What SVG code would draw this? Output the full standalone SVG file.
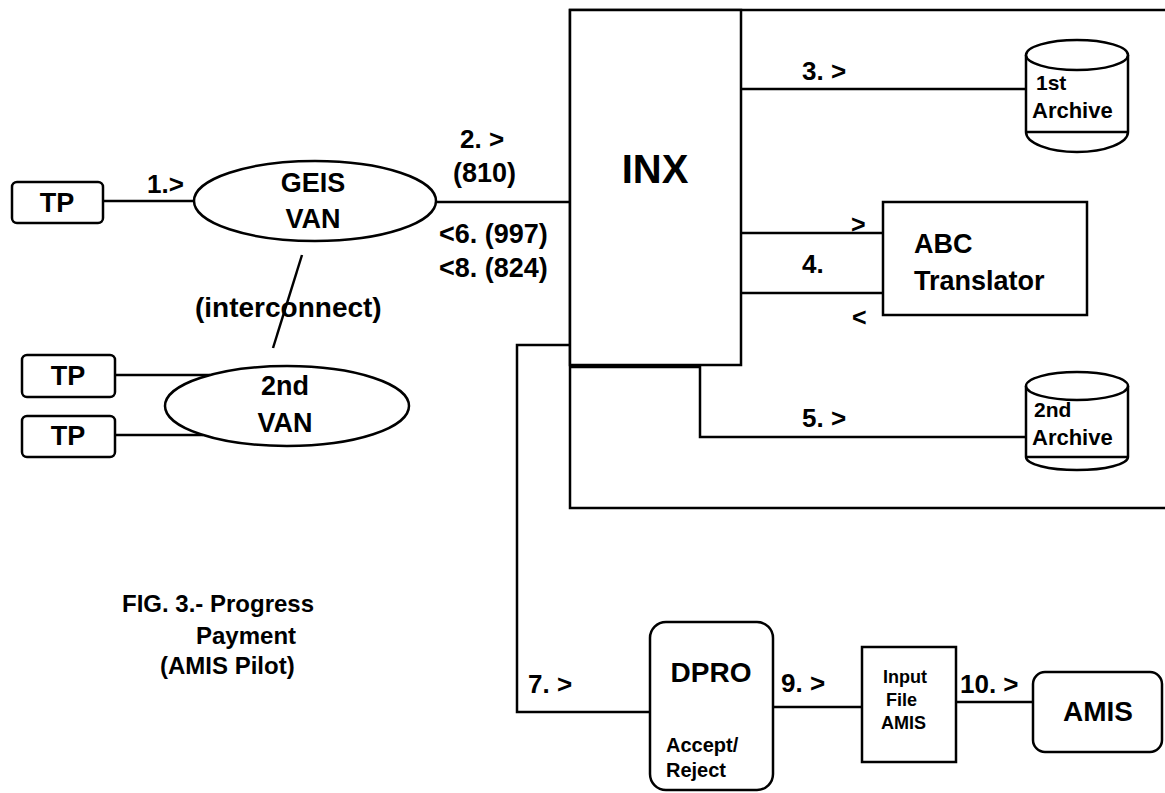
<svg xmlns="http://www.w3.org/2000/svg" width="1165" height="793" viewBox="0 0 1165 793">
<style>
.s{fill:none;stroke:#000;stroke-width:2.5}
.b{fill:#fff;stroke:#000;stroke-width:2.5}
text{font-family:"Liberation Sans",Arial,sans-serif;font-weight:bold;fill:#000}
.m{text-anchor:middle}
</style>
<rect width="1165" height="793" fill="#fff"/>
<g id="connectors" class="s">
<line x1="103" y1="201" x2="194" y2="201"/>
<line x1="437" y1="202" x2="570" y2="202"/>
<line x1="302" y1="255" x2="273" y2="348"/>
<line x1="115" y1="375" x2="210" y2="375"/>
<line x1="115" y1="435" x2="203" y2="435"/>
<line x1="741" y1="89" x2="1026" y2="89"/>
<line x1="741" y1="233" x2="883" y2="233"/>
<line x1="741" y1="293" x2="883" y2="293"/>
<polyline points="570,367 700,367 700,437 1026,437"/>
<polyline points="570,345 517,345 517,712 650,712"/>
<line x1="773" y1="707" x2="862" y2="707"/>
<line x1="956" y1="702" x2="1033" y2="702"/>
</g>
<g id="frame" class="s">
<polyline points="1165,10 570,10 570,508 1165,508"/>
</g>
<g id="tp1"><rect x="12" y="182" width="91" height="41" rx="5" class="b"/><text x="57" y="212" class="m" font-size="27">TP</text></g>
<g id="tp2"><rect x="22" y="355" width="93" height="42" rx="5" class="b"/><text x="68" y="385" class="m" font-size="27">TP</text></g>
<g id="tp3"><rect x="22" y="416" width="93" height="41" rx="5" class="b"/><text x="68" y="445" class="m" font-size="27">TP</text></g>
<g id="geis"><ellipse cx="315" cy="201" rx="121" ry="40" class="b"/><text x="313" y="192" class="m" font-size="27">GEIS</text><text x="313" y="228" class="m" font-size="27">VAN</text></g>
<g id="van2"><ellipse cx="287" cy="406" rx="122" ry="40" class="b"/><text x="285" y="395" class="m" font-size="27">2nd</text><text x="285" y="432" class="m" font-size="27">VAN</text></g>
<g id="inx"><rect x="570" y="10" width="171" height="355" class="b"/><text x="655" y="183" class="m" font-size="40">INX</text></g>
<g id="archive1">
<path d="M1026,55 V132 A51,20 0 0 0 1128,132 V55" class="b"/>
<ellipse cx="1077" cy="55" rx="51" ry="15" class="b"/>
<line x1="1026" y1="132" x2="1128" y2="132" class="s"/>
<text x="1036" y="90" font-size="21">1st</text><text x="1032" y="118" font-size="22">Archive</text>
</g>
<g id="abc"><rect x="883" y="202" width="204" height="113" class="b"/><text x="914" y="253" font-size="27">ABC</text><text x="914" y="290" font-size="27">Translator</text></g>
<g id="archive2">
<path d="M1026,386 V457 A51,13 0 0 0 1128,457 V386" class="b"/>
<ellipse cx="1077" cy="386" rx="51" ry="14" class="b"/>
<line x1="1026" y1="457" x2="1128" y2="457" class="s"/>
<text x="1034" y="417" font-size="21">2nd</text><text x="1032" y="445" font-size="22">Archive</text>
</g>
<g id="dpro"><rect x="650" y="622" width="123" height="168" rx="16" class="b"/><text x="711" y="682" class="m" font-size="28">DPRO</text><text x="666" y="752" font-size="20">Accept/</text><text x="666" y="777" font-size="20">Reject</text></g>
<g id="inputfile"><rect x="862" y="647" width="94" height="115" class="b"/><text x="883" y="683" font-size="18">Input</text><text x="886" y="706" font-size="18">File</text><text x="881" y="729" font-size="18">AMIS</text></g>
<g id="amis"><rect x="1033" y="672" width="129" height="80" rx="12" class="b"/><text x="1098" y="721" class="m" font-size="28">AMIS</text></g>
<g id="labels">
<text x="147" y="193" font-size="26">1.&gt;</text>
<text x="195" y="317" font-size="28">(interconnect)</text>
<text x="460" y="148" font-size="26">2. &gt;</text>
<text x="453" y="182" font-size="27">(810)</text>
<text x="439" y="243" font-size="27">&lt;6. (997)</text>
<text x="439" y="277" font-size="27">&lt;8. (824)</text>
<text x="802" y="80" font-size="26">3. &gt;</text>
<text x="851" y="233" font-size="25">&gt;</text>
<text x="802" y="273" font-size="26">4.</text>
<text x="852" y="326" font-size="25">&lt;</text>
<text x="802" y="427" font-size="26">5. &gt;</text>
<text x="528" y="693" font-size="26">7. &gt;</text>
<text x="781" y="692" font-size="26">9. &gt;</text>
<text x="960" y="693" font-size="26">10. &gt;</text>
<text x="122" y="612" font-size="24">FIG. 3.- Progress</text>
<text x="196" y="644" font-size="24">Payment</text>
<text x="160" y="674" font-size="24">(AMIS Pilot)</text>
</g>
</svg>
